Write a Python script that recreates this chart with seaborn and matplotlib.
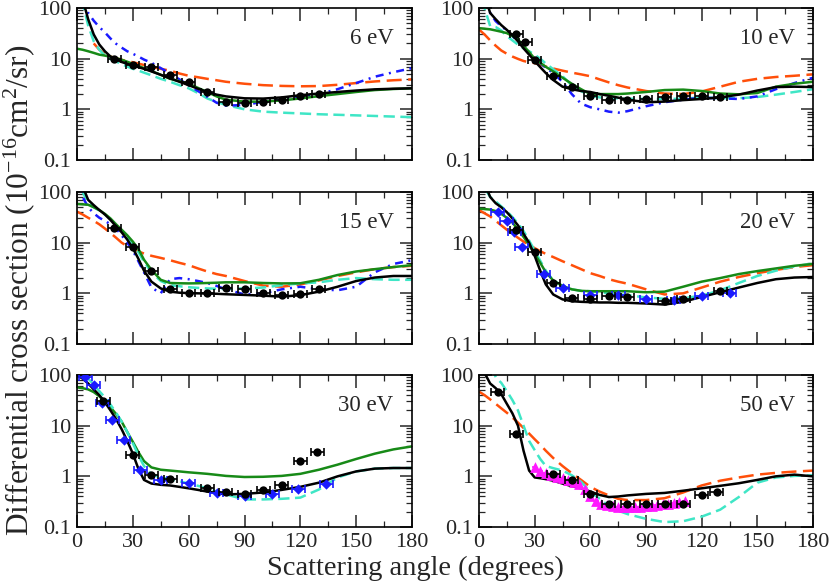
import numpy as np
import pandas as pd
import matplotlib
matplotlib.use("Agg")
import matplotlib.pyplot as plt
import seaborn as sns
from matplotlib.ticker import FixedLocator, NullFormatter, LogLocator, FixedFormatter

# ---------------- data ----------------
ANG = [0, 3, 6, 9, 12, 15, 18, 21, 24, 27, 30, 33, 36, 40, 45, 50, 55, 60, 65, 70,
       75, 80, 90, 100, 110, 120, 130, 140, 150, 160, 170, 180]
nan = np.nan

ENERGIES = ["6 eV", "10 eV", "15 eV", "20 eV", "30 eV", "50 eV"]

# 6 eV
e6_black = [400, 150, 60, 30, 19, 14, 11, 9.6, 8.6, 7.9, 7.3, 6.8, 6.3, 5.6, 4.8, 4.1, 3.5, 3.0, 2.55, 2.2,
            1.95, 1.8, 1.65, 1.63, 1.72, 1.9, 2.05, 2.2, 2.35, 2.48, 2.55, 2.6]
e6_green = [15.7, 15, 14, 13, 12, 11.5, 10.9, 10.3, 9.5, 8.7, 7.9, 7.2, 6.5, 5.7, 4.8, 4.0, 3.6, 3.2, 2.65, 2.2,
            1.8, 1.55, 1.42, 1.42, 1.5, 1.64, 1.82, 2.0, 2.2, 2.4, 2.52, 2.6]
e6_orange = [nan, nan, nan, 20, 15, 12.5, 11, 10.2, 9.5, 8.9, 8.5, 8.0, 7.5, 6.9, 6.3, 5.8, 5.1, 4.6, 4.3, 4.0,
             3.75, 3.5, 3.2, 3.0, 2.9, 2.85, 2.88, 3.05, 3.3, 3.55, 3.75, 3.9]
e6_blue = [300, 200, 80, 56, 42, 33, 25, 19.7, 16.5, 14, 12.5, 11, 9.6, 8.3, 6.5, 5.1, 3.9, 3.0, 2.3, 1.77,
           1.35, 1.18, 1.22, 1.41, 1.55, 1.77, 2.0, 2.5, 3.3, 4.4, 5.4, 6.5]
e6_turq = [300, 130, 45, 22, 15, 11.5, 9.8, 8.8, 7.8, 7.0, 6.3, 5.8, 5.3, 4.7, 4.0, 3.5, 3.0, 2.6, 2.1, 1.64,
           1.4, 1.22, 1.0, 0.9, 0.86, 0.83, 0.8, 0.78, 0.76, 0.74, 0.72, 0.70]
e6_exp_x = [20, 30, 40, 50, 60, 70, 80, 90, 100, 110, 120, 130]
e6_exp_y = [10, 7.4, 6.7, 4.85, 3.4, 2.2, 1.42, 1.33, 1.37, 1.5, 1.85, 2.05]

# 10 eV
e10_black = [500, 180, 80, 60, 46, 37, 29, 22, 16, 12, 9.0, 6.8, 5.2, 3.8, 2.8, 2.5, 2.3, 2.2, 2.0, 1.85,
             1.7, 1.55, 1.38, 1.42, 1.52, 1.6, 1.72, 1.95, 2.35, 2.75, 2.8, 2.75]
e10_green = [40, 39, 38, 36, 34, 32, 28, 24, 18, 13.5, 10, 8.3, 6.9, 5.6, 4.2, 3.2, 2.5, 2.0, 2.0, 2.0,
             2.0, 2.05, 2.2, 2.4, 2.45, 2.3, 2.05, 1.98, 2.1, 2.8, 3.2, 3.5]
e10_orange = [37.6, 30, 23, 18, 14.5, 12.5, 11, 9.9, 9.0, 8.5, 8.2, 7.6, 7.0, 6.4, 5.8, 5.3, 4.9, 4.5, 3.9, 3.4,
              3.0, 2.7, 2.3, 2.05, 2.0, 2.25, 2.8, 3.5, 4.0, 4.35, 4.6, 4.9]
e10_blue = [500, 200, 80, 55, 44, 36, 28, 22, 17, 13, 10, 8.2, 6.6, 5.2, 3.5, 2.0, 1.3, 1.1, 1.0, 0.9,
            0.86, 0.92, 1.15, 1.38, 1.55, 1.7, 1.65, 1.6, 1.8, 2.5, 3.3, 4.2]
e10_turq = [500, 100, 44, 42, 36, 28, 23, 19, 16, 14, 12, 10, 8, 6.2, 4.5, 3.0, 2.3, 1.85, 1.72, 1.66,
            1.64, 1.62, 1.6, 1.6, 1.62, 1.72, 1.66, 1.66, 1.75, 1.95, 2.2, 2.5]
e10_exp_x = [20, 25, 30, 40, 50, 60, 70, 80, 90, 100, 110, 120, 130]
e10_exp_y = [31, 21, 9.5, 4.5, 2.8, 1.8, 1.5, 1.5, 1.6, 1.75, 1.85, 1.8, 1.75]

# 15 eV
e15_black = [400, 130, 70, 55, 44, 36, 28, 21, 16, 11.5, 7.8, 4.8, 2.8, 1.7, 1.25, 1.08, 1.03, 1.01, 1.0, 0.99,
             0.98, 0.96, 0.93, 0.9, 0.86, 0.92, 1.08, 1.35, 1.75, 2.05, 2.2, 2.2]
e15_green = [58, 57, 56, 50, 44, 37, 30, 23, 18, 14, 10.5, 7.5, 4.6, 2.9, 1.85, 1.6, 1.58, 1.57, 1.58, 1.6,
             1.62, 1.65, 1.65, 1.6, 1.57, 1.58, 1.85, 2.3, 2.7, 3.0, 3.3, 3.6]
e15_orange = [41, 36, 31, 27, 23, 19, 15.5, 12.5, 10, 8.5, 7.4, 6.7, 6.1, 5.5, 5.0, 4.5, 4.0, 3.6, 3.1, 2.7,
              2.4, 2.2, 1.75, 1.42, 1.35, 1.5, 1.8, 2.2, 2.6, 3.0, 3.3, 3.5]
e15_blue = [500, 80, 50, 38, 31, 27, 23, 19, 14, 10, 7.0, 4.3, 2.6, 1.3, 1.0, 1.9, 2.0, 1.9, 1.75, 1.6,
            1.4, 1.2, 0.95, 1.0, 1.2, 1.35, 1.2, 1.15, 1.35, 2.6, 3.8, 4.5]
e15_turq = [500, 100, 60, 50, 43, 36, 29, 22, 17, 13, 9.5, 6.5, 4.2, 2.6, 1.75, 1.45, 1.38, 1.32, 1.28, 1.25,
            1.23, 1.22, 1.25, 1.3, 1.45, 1.57, 1.65, 1.85, 2.0, 1.9, 1.85, 1.85]
e15_exp_x = [20, 30, 40, 50, 60, 70, 80, 90, 100, 110, 120, 130]
e15_exp_y = [19.5, 8.3, 2.7, 1.2, 1.0, 1.03, 1.25, 1.2, 1.0, 0.93, 0.97, 1.2]

# 20 eV
e20_black = [500, 150, 80, 60, 50, 40, 30, 22, 15, 10, 5.5, 2.8, 1.5, 0.95, 0.76, 0.7, 0.68, 0.67, 0.66, 0.66,
             0.65, 0.65, 0.63, 0.6, 0.68, 0.85, 1.05, 1.3, 1.6, 1.9, 2.05, 2.1]
e20_green = [47, 46, 45, 42, 37, 31, 25, 18, 13, 9, 6, 4.0, 2.6, 1.8, 1.4, 1.2, 1.12, 1.1, 1.1, 1.1,
             1.1, 1.1, 1.05, 1.08, 1.35, 1.7, 2.0, 2.4, 2.75, 3.1, 3.5, 3.8]
e20_orange = [44, 38, 33, 27, 22, 18, 15, 12.5, 10.5, 9.0, 7.8, 6.8, 6.0, 5.2, 4.3, 3.6, 3.0, 2.5, 2.2, 1.9,
              1.7, 1.55, 1.2, 0.95, 1.0, 1.3, 1.7, 2.1, 2.5, 2.9, 3.3, 3.6]
e20_turq = [500, 120, 80, 65, 52, 42, 32, 24, 17, 11, 7.0, 4.4, 2.8, 1.8, 1.4, 1.2, 1.12, 1.1, 1.05, 1.0,
            0.96, 0.92, 0.83, 0.78, 0.8, 0.9, 1.15, 1.6, 2.2, 2.8, 3.4, 3.9]
e20_exp_x = [20, 30, 40, 50, 60, 70, 80, 100, 110, 130]
e20_exp_y = [18, 6.5, 1.6, 0.81, 0.79, 0.89, 0.86, 0.72, 0.79, 1.13]
e20_dia_x = [10, 15, 19, 23, 35, 45, 60, 75, 90, 105, 120, 135]
e20_dia_y = [41, 27, 16, 8.1, 2.4, 1.27, 0.91, 0.91, 0.76, 0.74, 0.89, 1.0]

# 30 eV
e30_black = [100, 85, 68, 52, 40, 29, 20, 13.5, 8.5, 5.0, 2.8, 1.4, 0.85, 0.72, 0.68, 0.66, 0.62, 0.58, 0.54, 0.5,
             0.47, 0.44, 0.45, 0.48, 0.54, 0.62, 0.75, 1.0, 1.25, 1.42, 1.46, 1.46]
e30_green = [57, 55, 52, 46, 38, 30, 23, 17, 12, 7.5, 4.8, 3.0, 2.0, 1.5, 1.35, 1.3, 1.25, 1.2, 1.16, 1.12,
             1.07, 1.02, 0.97, 0.98, 1.02, 1.12, 1.35, 1.7, 2.2, 2.8, 3.4, 3.9]
e30_turq = [200, 110, 85, 65, 48, 36, 26, 18, 12, 7.5, 4.5, 2.6, 1.6, 1.1, 0.95, 0.88, 0.8, 0.72, 0.65, 0.58,
            0.5, 0.44, 0.35, 0.35, 0.36, 0.38, 0.55, 0.95, 1.25, 1.42, 1.46, 1.46]
e30_exp_x = [14, 30, 40, 50, 70, 80, 90, 100, 110, 120, 129]
e30_exp_y = [30, 2.6, 1.08, 0.88, 0.59, 0.49, 0.45, 0.53, 0.66, 1.98, 3.0]
e30_dia_x = [4.5, 9, 13.5, 19, 25, 34, 45, 60, 75, 90, 105, 119, 134]
e30_dia_y = [92, 63, 28, 13, 5.2, 1.31, 0.86, 0.74, 0.47, 0.40, 0.44, 0.55, 0.72]

# 50 eV
e50_black = [200, 110, 68, 55, 42, 27, 17.5, 10, 3.2, 1.3, 0.95, 0.92, 0.88, 0.82, 0.72, 0.64, 0.58, 0.5, 0.43, 0.39,
             0.4, 0.42, 0.45, 0.47, 0.52, 0.58, 0.65, 0.73, 0.85, 1.0, 1.08, 1.0]
e50_orange = [47, 40, 33, 27, 22, 18, 14.5, 11.5, 9, 7, 5.4, 4.2, 3.2, 2.3, 1.6, 1.15, 0.85, 0.62, 0.5, 0.42,
              0.36, 0.34, 0.34, 0.37, 0.48, 0.66, 0.82, 0.95, 1.08, 1.17, 1.24, 1.3]
e50_turq = [500, 500, 200, 90, 70, 48, 32, 20, 10, 5, 3.3, 2.2, 1.6, 1.45, 1.3, 1.05, 0.78, 0.5, 0.36, 0.26,
            0.21, 0.18, 0.145, 0.125, 0.13, 0.16, 0.22, 0.39, 0.75, 0.95, 1.02, 1.05]
e50_exp_x = [10, 20, 40, 50, 60, 70, 80, 90, 100, 110, 120, 128]
e50_exp_y = [47, 7.0, 1.1, 0.84, 0.44, 0.28, 0.28, 0.28, 0.28, 0.29, 0.43, 0.49]
e50_tri_x = [30, 33, 36, 39, 42, 45, 48, 51, 54, 57, 60, 63, 66, 69, 72, 75, 78, 81, 84, 87,
             90, 93, 96, 99, 102, 105, 108, 111]
e50_tri_y = [1.5, 1.3, 1.15, 1.05, 0.97, 0.92, 0.86, 0.79, 0.7, 0.55, 0.4, 0.33, 0.29, 0.27, 0.26, 0.25,
             0.25, 0.25, 0.25, 0.25, 0.26, 0.26, 0.27, 0.28, 0.29, 0.3, 0.31, 0.32]

Y_TICKS = [0.1, 1, 10, 100]
Y_TICK_LABELS = ["0.1", "1", "10", "100"]
X_TICKS = [0, 30, 60, 90, 120, 150, 180]
X_TICK_LABELS = ["0", "30", "60", "90", "120", "150", "180"]

# ---------------- style ----------------
sns.set_theme(style="ticks")
plt.rcParams["font.family"] = ["Liberation Serif", "DejaVu Serif"]
plt.rcParams["mathtext.fontset"] = "custom"
plt.rcParams["mathtext.rm"] = "Liberation Serif"
plt.rcParams["mathtext.default"] = "regular"

C_BLACK = "black"
C_GREEN = "#178a17"
C_ORANGE = "#ff4f0a"
C_BLUE = "#1a1aff"
C_TURQ = "#3fe6c6"
C_MAG = "#ff1aff"

STY = {
    "orange": dict(color=C_ORANGE, dashes=(6, 2.6)),
    "turq": dict(color=C_TURQ, dashes=(4.5, 2.2)),
    "blue": dict(color=C_BLUE, dashes=(3.2, 2.2, 0.8, 2.2)),
    "green": dict(color=C_GREEN, dashes=None),
    "black": dict(color=C_BLACK, dashes=None),
}

panels = [
    dict(curves=[("orange", e6_orange), ("turq", e6_turq), ("blue", e6_blue), ("green", e6_green), ("black", e6_black)],
         exp=(e6_exp_x, e6_exp_y), dia=None, tri=None),
    dict(curves=[("orange", e10_orange), ("turq", e10_turq), ("blue", e10_blue), ("green", e10_green), ("black", e10_black)],
         exp=(e10_exp_x, e10_exp_y), dia=None, tri=None),
    dict(curves=[("orange", e15_orange), ("turq", e15_turq), ("blue", e15_blue), ("green", e15_green), ("black", e15_black)],
         exp=(e15_exp_x, e15_exp_y), dia=None, tri=None),
    dict(curves=[("orange", e20_orange), ("turq", e20_turq), ("green", e20_green), ("black", e20_black)],
         exp=(e20_exp_x, e20_exp_y), dia=(e20_dia_x, e20_dia_y), tri=None),
    dict(curves=[("green", e30_green), ("black", e30_black), ("turq", e30_turq)],
         exp=(e30_exp_x, e30_exp_y), dia=(e30_dia_x, e30_dia_y), tri=None),
    dict(curves=[("orange", e50_orange), ("turq", e50_turq), ("black", e50_black)],
         exp=(e50_exp_x, e50_exp_y), dia=None, tri=(e50_tri_x, e50_tri_y)),
]

W, H = 830, 581
fig = plt.figure(figsize=(W / 100, H / 100), dpi=100)

lefts = [77, 479]
widths = [335, 334]
tops = [8, 192, 375]
height = 152

for i, p in enumerate(panels):
    r, c = divmod(i, 2)
    ax = fig.add_axes([lefts[c] / W, 1 - (tops[r] + height) / H, widths[c] / W, height / H])
    ax.set_yscale("log")
    ax.set_xlim(0, 180)
    ax.set_ylim(0.1, 100)

    for name, vals in p["curves"]:
        df = pd.DataFrame({"ang": ANG, "dcs": vals}).dropna()
        st = STY[name]
        sns.lineplot(data=df, x="ang", y="dcs", ax=ax, color=st["color"], lw=1.8,
                     estimator=None, sort=False, zorder=3 if name == "black" else 2)
        if st["dashes"] is not None:
            ax.lines[-1].set_dashes(st["dashes"])

    if p["tri"] is not None:
        tx, ty = p["tri"]
        ax.errorbar(tx, ty, xerr=1.5, fmt="none", ecolor=C_MAG, elinewidth=1.2, capsize=0, zorder=4)
        sns.scatterplot(x=tx, y=ty, ax=ax, marker="^", s=60, color=C_MAG, edgecolor=C_MAG, linewidth=0, zorder=5)
    if p["dia"] is not None:
        dx, dy = p["dia"]
        ax.errorbar(dx, dy, xerr=3.5, fmt="none", ecolor=C_BLUE, elinewidth=1.2, capsize=3, capthick=1.2, zorder=4)
        sns.scatterplot(x=dx, y=dy, ax=ax, marker="D", s=28, color=C_BLUE, edgecolor=C_BLUE, linewidth=0, zorder=5)
    ex, ey = p["exp"]
    ax.errorbar(ex, ey, xerr=3.5, fmt="none", ecolor="black", elinewidth=1.2, capsize=3, capthick=1.2, zorder=6)
    sns.scatterplot(x=ex, y=ey, ax=ax, marker="o", s=36, color="black", edgecolor="black", linewidth=0, zorder=7)

    ax.set_xlabel("")
    ax.set_ylabel("")
    ax.xaxis.set_major_locator(FixedLocator(X_TICKS))
    ax.xaxis.set_minor_locator(FixedLocator([15, 45, 75, 105, 135, 165]))
    ax.yaxis.set_major_locator(FixedLocator(Y_TICKS))
    ax.yaxis.set_minor_locator(LogLocator(base=10, subs=np.arange(2, 10), numticks=20))
    ax.yaxis.set_minor_formatter(NullFormatter())
    ax.yaxis.set_major_formatter(FixedFormatter(Y_TICK_LABELS))
    if r == 2:
        ax.xaxis.set_major_formatter(FixedFormatter(X_TICK_LABELS))
    else:
        ax.xaxis.set_major_formatter(NullFormatter())
    ax.tick_params(which="major", direction="in", length=9, width=1.1, top=True, right=True,
                   labelsize=16, pad=4)
    ax.tick_params(which="minor", direction="in", length=4.5, width=0.9, top=True, right=True)
    for s in ax.spines.values():
        s.set_linewidth(1.2)
        s.set_color("black")
    ax.text(0.945, 0.8, ENERGIES[i], transform=ax.transAxes, ha="right", va="center", fontsize=16.5)

fig.text(415 / W, 1 - 568 / H, "Scattering angle (degrees)", ha="center", va="center", fontsize=20.5)
fig.text(19 / W, 1 - 290 / H, "Differential cross section (10$^{-16}$cm$^{2}$/sr)",
         ha="center", va="center", rotation=90, fontsize=22.5)

fig.savefig("out.png", dpi=100)
